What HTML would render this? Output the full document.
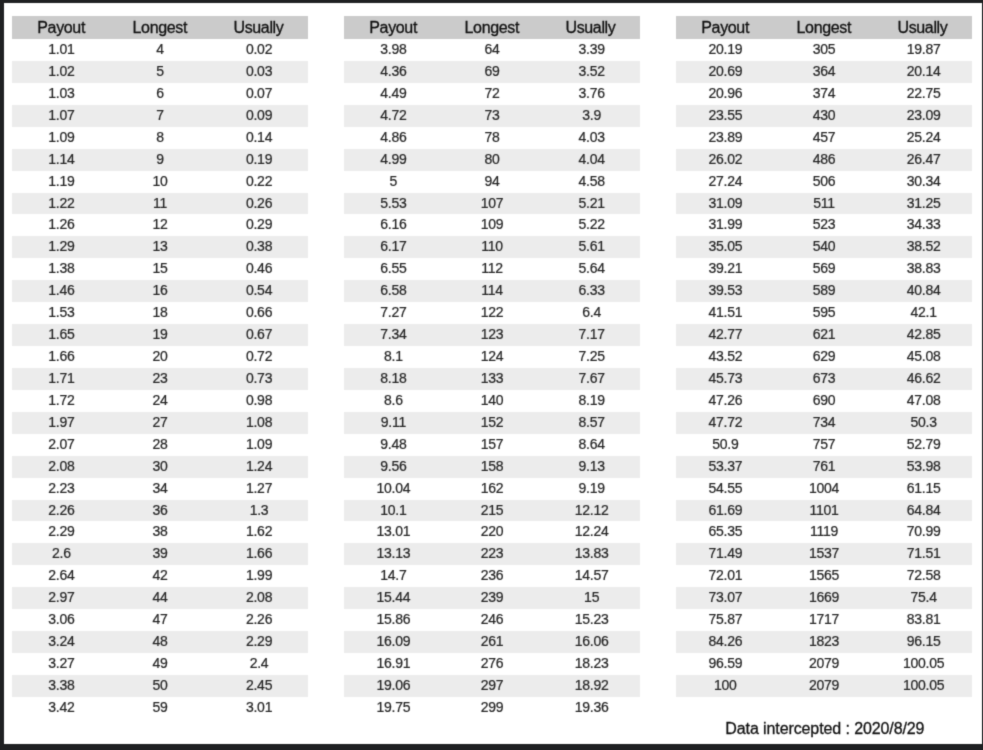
<!DOCTYPE html><html><head><meta charset='utf-8'><title>Payout table</title><style>
html,body{margin:0;padding:0;}
body{width:983px;height:750px;overflow:hidden;background:#1f2022;position:relative;font-family:"Liberation Sans",sans-serif;}
#paper{position:absolute;left:4px;top:3px;width:978px;height:741px;background:#fff;}
.t{position:absolute;top:0;width:296px;}
#wrap{position:absolute;left:0;top:0;width:983px;height:750px;will-change:transform;filter:url(#soft);}
.r{position:absolute;left:0;width:100%;}
.r span{position:absolute;top:0;width:33.3333%;text-align:center;white-space:nowrap;}
.r span:nth-child(1){left:0} .r span:nth-child(2){left:33.3333%} .r span:nth-child(3){left:66.6667%}
.h{background:#cbcbcb;color:#111;font-size:16px;letter-spacing:-0.35px;-webkit-text-stroke:0.3px #111;}
.d{color:#262626;font-size:14px;letter-spacing:-0.25px;-webkit-text-stroke:0.22px #262626;}
.g{background:#ececec;}
.h span{margin-left:-0.2px;}
.t0 .d span:nth-child(3){margin-left:0.4px;}
.t1 .d span:nth-child(3){margin-left:1.0px;}
.t2 .d span:nth-child(3){margin-left:1.0px;}
#foot{position:absolute;white-space:nowrap;color:#111;font-size:16px;letter-spacing:-0.1px;left:725.3px;top:718.5px;line-height:20px;-webkit-text-stroke:0.3px #111;}
</style></head><body><svg width='0' height='0' style='position:absolute'><defs><filter id='soft' x='0' y='0' width='100%' height='100%' color-interpolation-filters='sRGB'><feConvolveMatrix order='3' kernelMatrix='0.0196 0.1008 0.0196 0.1008 0.5184 0.1008 0.0196 0.1008 0.0196' edgeMode='duplicate' preserveAlpha='false'/></filter></defs></svg><div id='wrap'><div id='paper'></div>
<div class='t t0' style='left:12px'>
<div class='r h' style='top:15.5px;height:23.5px;line-height:23.5px'><span>Payout</span><span>Longest</span><span>Usually</span></div>
<div class='r d' style='top:39.0px;height:21.93px;line-height:21.73px'><span>1.01</span><span>4</span><span>0.02</span></div>
<div class='r d g' style='top:60.93px;height:21.93px;line-height:21.73px'><span>1.02</span><span>5</span><span>0.03</span></div>
<div class='r d' style='top:82.86px;height:21.93px;line-height:21.73px'><span>1.03</span><span>6</span><span>0.07</span></div>
<div class='r d g' style='top:104.79px;height:21.93px;line-height:21.73px'><span>1.07</span><span>7</span><span>0.09</span></div>
<div class='r d' style='top:126.72px;height:21.93px;line-height:21.73px'><span>1.09</span><span>8</span><span>0.14</span></div>
<div class='r d g' style='top:148.65px;height:21.93px;line-height:21.73px'><span>1.14</span><span>9</span><span>0.19</span></div>
<div class='r d' style='top:170.58px;height:21.93px;line-height:21.73px'><span>1.19</span><span>10</span><span>0.22</span></div>
<div class='r d g' style='top:192.51px;height:21.93px;line-height:21.73px'><span>1.22</span><span>11</span><span>0.26</span></div>
<div class='r d' style='top:214.44px;height:21.93px;line-height:21.73px'><span>1.26</span><span>12</span><span>0.29</span></div>
<div class='r d g' style='top:236.37px;height:21.93px;line-height:21.73px'><span>1.29</span><span>13</span><span>0.38</span></div>
<div class='r d' style='top:258.3px;height:21.93px;line-height:21.73px'><span>1.38</span><span>15</span><span>0.46</span></div>
<div class='r d g' style='top:280.23px;height:21.93px;line-height:21.73px'><span>1.46</span><span>16</span><span>0.54</span></div>
<div class='r d' style='top:302.16px;height:21.93px;line-height:21.73px'><span>1.53</span><span>18</span><span>0.66</span></div>
<div class='r d g' style='top:324.09px;height:21.93px;line-height:21.73px'><span>1.65</span><span>19</span><span>0.67</span></div>
<div class='r d' style='top:346.02px;height:21.93px;line-height:21.73px'><span>1.66</span><span>20</span><span>0.72</span></div>
<div class='r d g' style='top:367.95px;height:21.93px;line-height:21.73px'><span>1.71</span><span>23</span><span>0.73</span></div>
<div class='r d' style='top:389.88px;height:21.93px;line-height:21.73px'><span>1.72</span><span>24</span><span>0.98</span></div>
<div class='r d g' style='top:411.81px;height:21.93px;line-height:21.73px'><span>1.97</span><span>27</span><span>1.08</span></div>
<div class='r d' style='top:433.74px;height:21.93px;line-height:21.73px'><span>2.07</span><span>28</span><span>1.09</span></div>
<div class='r d g' style='top:455.67px;height:21.93px;line-height:21.73px'><span>2.08</span><span>30</span><span>1.24</span></div>
<div class='r d' style='top:477.6px;height:21.93px;line-height:21.73px'><span>2.23</span><span>34</span><span>1.27</span></div>
<div class='r d g' style='top:499.53px;height:21.93px;line-height:21.73px'><span>2.26</span><span>36</span><span>1.3</span></div>
<div class='r d' style='top:521.46px;height:21.93px;line-height:21.73px'><span>2.29</span><span>38</span><span>1.62</span></div>
<div class='r d g' style='top:543.39px;height:21.93px;line-height:21.73px'><span>2.6</span><span>39</span><span>1.66</span></div>
<div class='r d' style='top:565.32px;height:21.93px;line-height:21.73px'><span>2.64</span><span>42</span><span>1.99</span></div>
<div class='r d g' style='top:587.25px;height:21.93px;line-height:21.73px'><span>2.97</span><span>44</span><span>2.08</span></div>
<div class='r d' style='top:609.18px;height:21.93px;line-height:21.73px'><span>3.06</span><span>47</span><span>2.26</span></div>
<div class='r d g' style='top:631.11px;height:21.93px;line-height:21.73px'><span>3.24</span><span>48</span><span>2.29</span></div>
<div class='r d' style='top:653.04px;height:21.93px;line-height:21.73px'><span>3.27</span><span>49</span><span>2.4</span></div>
<div class='r d g' style='top:674.97px;height:21.93px;line-height:21.73px'><span>3.38</span><span>50</span><span>2.45</span></div>
<div class='r d' style='top:696.9px;height:21.93px;line-height:21.73px'><span>3.42</span><span>59</span><span>3.01</span></div>
</div>
<div class='t t1' style='left:344px'>
<div class='r h' style='top:15.5px;height:23.5px;line-height:23.5px'><span>Payout</span><span>Longest</span><span>Usually</span></div>
<div class='r d' style='top:39.0px;height:21.93px;line-height:21.73px'><span>3.98</span><span>64</span><span>3.39</span></div>
<div class='r d g' style='top:60.93px;height:21.93px;line-height:21.73px'><span>4.36</span><span>69</span><span>3.52</span></div>
<div class='r d' style='top:82.86px;height:21.93px;line-height:21.73px'><span>4.49</span><span>72</span><span>3.76</span></div>
<div class='r d g' style='top:104.79px;height:21.93px;line-height:21.73px'><span>4.72</span><span>73</span><span>3.9</span></div>
<div class='r d' style='top:126.72px;height:21.93px;line-height:21.73px'><span>4.86</span><span>78</span><span>4.03</span></div>
<div class='r d g' style='top:148.65px;height:21.93px;line-height:21.73px'><span>4.99</span><span>80</span><span>4.04</span></div>
<div class='r d' style='top:170.58px;height:21.93px;line-height:21.73px'><span>5</span><span>94</span><span>4.58</span></div>
<div class='r d g' style='top:192.51px;height:21.93px;line-height:21.73px'><span>5.53</span><span>107</span><span>5.21</span></div>
<div class='r d' style='top:214.44px;height:21.93px;line-height:21.73px'><span>6.16</span><span>109</span><span>5.22</span></div>
<div class='r d g' style='top:236.37px;height:21.93px;line-height:21.73px'><span>6.17</span><span>110</span><span>5.61</span></div>
<div class='r d' style='top:258.3px;height:21.93px;line-height:21.73px'><span>6.55</span><span>112</span><span>5.64</span></div>
<div class='r d g' style='top:280.23px;height:21.93px;line-height:21.73px'><span>6.58</span><span>114</span><span>6.33</span></div>
<div class='r d' style='top:302.16px;height:21.93px;line-height:21.73px'><span>7.27</span><span>122</span><span>6.4</span></div>
<div class='r d g' style='top:324.09px;height:21.93px;line-height:21.73px'><span>7.34</span><span>123</span><span>7.17</span></div>
<div class='r d' style='top:346.02px;height:21.93px;line-height:21.73px'><span>8.1</span><span>124</span><span>7.25</span></div>
<div class='r d g' style='top:367.95px;height:21.93px;line-height:21.73px'><span>8.18</span><span>133</span><span>7.67</span></div>
<div class='r d' style='top:389.88px;height:21.93px;line-height:21.73px'><span>8.6</span><span>140</span><span>8.19</span></div>
<div class='r d g' style='top:411.81px;height:21.93px;line-height:21.73px'><span>9.11</span><span>152</span><span>8.57</span></div>
<div class='r d' style='top:433.74px;height:21.93px;line-height:21.73px'><span>9.48</span><span>157</span><span>8.64</span></div>
<div class='r d g' style='top:455.67px;height:21.93px;line-height:21.73px'><span>9.56</span><span>158</span><span>9.13</span></div>
<div class='r d' style='top:477.6px;height:21.93px;line-height:21.73px'><span>10.04</span><span>162</span><span>9.19</span></div>
<div class='r d g' style='top:499.53px;height:21.93px;line-height:21.73px'><span>10.1</span><span>215</span><span>12.12</span></div>
<div class='r d' style='top:521.46px;height:21.93px;line-height:21.73px'><span>13.01</span><span>220</span><span>12.24</span></div>
<div class='r d g' style='top:543.39px;height:21.93px;line-height:21.73px'><span>13.13</span><span>223</span><span>13.83</span></div>
<div class='r d' style='top:565.32px;height:21.93px;line-height:21.73px'><span>14.7</span><span>236</span><span>14.57</span></div>
<div class='r d g' style='top:587.25px;height:21.93px;line-height:21.73px'><span>15.44</span><span>239</span><span>15</span></div>
<div class='r d' style='top:609.18px;height:21.93px;line-height:21.73px'><span>15.86</span><span>246</span><span>15.23</span></div>
<div class='r d g' style='top:631.11px;height:21.93px;line-height:21.73px'><span>16.09</span><span>261</span><span>16.06</span></div>
<div class='r d' style='top:653.04px;height:21.93px;line-height:21.73px'><span>16.91</span><span>276</span><span>18.23</span></div>
<div class='r d g' style='top:674.97px;height:21.93px;line-height:21.73px'><span>19.06</span><span>297</span><span>18.92</span></div>
<div class='r d' style='top:696.9px;height:21.93px;line-height:21.73px'><span>19.75</span><span>299</span><span>19.36</span></div>
</div>
<div class='t t2' style='left:676px'>
<div class='r h' style='top:15.5px;height:23.5px;line-height:23.5px'><span>Payout</span><span>Longest</span><span>Usually</span></div>
<div class='r d' style='top:39.0px;height:21.93px;line-height:21.73px'><span>20.19</span><span>305</span><span>19.87</span></div>
<div class='r d g' style='top:60.93px;height:21.93px;line-height:21.73px'><span>20.69</span><span>364</span><span>20.14</span></div>
<div class='r d' style='top:82.86px;height:21.93px;line-height:21.73px'><span>20.96</span><span>374</span><span>22.75</span></div>
<div class='r d g' style='top:104.79px;height:21.93px;line-height:21.73px'><span>23.55</span><span>430</span><span>23.09</span></div>
<div class='r d' style='top:126.72px;height:21.93px;line-height:21.73px'><span>23.89</span><span>457</span><span>25.24</span></div>
<div class='r d g' style='top:148.65px;height:21.93px;line-height:21.73px'><span>26.02</span><span>486</span><span>26.47</span></div>
<div class='r d' style='top:170.58px;height:21.93px;line-height:21.73px'><span>27.24</span><span>506</span><span>30.34</span></div>
<div class='r d g' style='top:192.51px;height:21.93px;line-height:21.73px'><span>31.09</span><span>511</span><span>31.25</span></div>
<div class='r d' style='top:214.44px;height:21.93px;line-height:21.73px'><span>31.99</span><span>523</span><span>34.33</span></div>
<div class='r d g' style='top:236.37px;height:21.93px;line-height:21.73px'><span>35.05</span><span>540</span><span>38.52</span></div>
<div class='r d' style='top:258.3px;height:21.93px;line-height:21.73px'><span>39.21</span><span>569</span><span>38.83</span></div>
<div class='r d g' style='top:280.23px;height:21.93px;line-height:21.73px'><span>39.53</span><span>589</span><span>40.84</span></div>
<div class='r d' style='top:302.16px;height:21.93px;line-height:21.73px'><span>41.51</span><span>595</span><span>42.1</span></div>
<div class='r d g' style='top:324.09px;height:21.93px;line-height:21.73px'><span>42.77</span><span>621</span><span>42.85</span></div>
<div class='r d' style='top:346.02px;height:21.93px;line-height:21.73px'><span>43.52</span><span>629</span><span>45.08</span></div>
<div class='r d g' style='top:367.95px;height:21.93px;line-height:21.73px'><span>45.73</span><span>673</span><span>46.62</span></div>
<div class='r d' style='top:389.88px;height:21.93px;line-height:21.73px'><span>47.26</span><span>690</span><span>47.08</span></div>
<div class='r d g' style='top:411.81px;height:21.93px;line-height:21.73px'><span>47.72</span><span>734</span><span>50.3</span></div>
<div class='r d' style='top:433.74px;height:21.93px;line-height:21.73px'><span>50.9</span><span>757</span><span>52.79</span></div>
<div class='r d g' style='top:455.67px;height:21.93px;line-height:21.73px'><span>53.37</span><span>761</span><span>53.98</span></div>
<div class='r d' style='top:477.6px;height:21.93px;line-height:21.73px'><span>54.55</span><span>1004</span><span>61.15</span></div>
<div class='r d g' style='top:499.53px;height:21.93px;line-height:21.73px'><span>61.69</span><span>1101</span><span>64.84</span></div>
<div class='r d' style='top:521.46px;height:21.93px;line-height:21.73px'><span>65.35</span><span>1119</span><span>70.99</span></div>
<div class='r d g' style='top:543.39px;height:21.93px;line-height:21.73px'><span>71.49</span><span>1537</span><span>71.51</span></div>
<div class='r d' style='top:565.32px;height:21.93px;line-height:21.73px'><span>72.01</span><span>1565</span><span>72.58</span></div>
<div class='r d g' style='top:587.25px;height:21.93px;line-height:21.73px'><span>73.07</span><span>1669</span><span>75.4</span></div>
<div class='r d' style='top:609.18px;height:21.93px;line-height:21.73px'><span>75.87</span><span>1717</span><span>83.81</span></div>
<div class='r d g' style='top:631.11px;height:21.93px;line-height:21.73px'><span>84.26</span><span>1823</span><span>96.15</span></div>
<div class='r d' style='top:653.04px;height:21.93px;line-height:21.73px'><span>96.59</span><span>2079</span><span>100.05</span></div>
<div class='r d g' style='top:674.97px;height:21.93px;line-height:21.73px'><span>100</span><span>2079</span><span>100.05</span></div>
</div>
<div id='foot'>Data intercepted : 2020/8/29</div>
</div></body></html>
